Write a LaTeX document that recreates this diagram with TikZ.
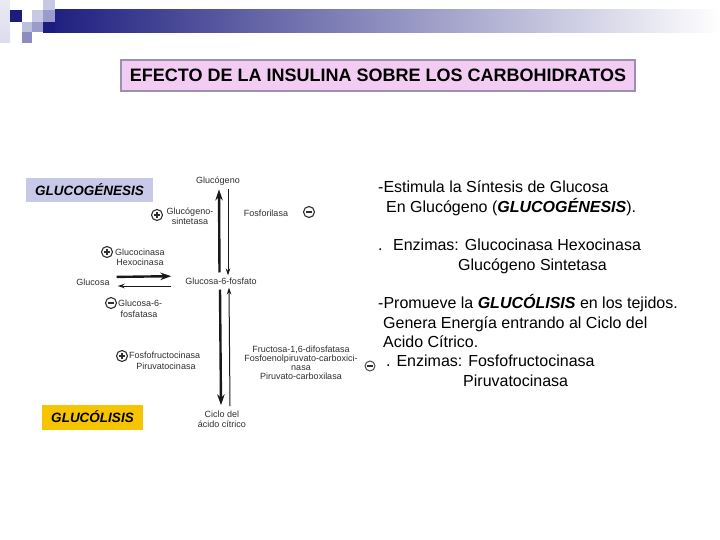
\documentclass[tikz,border=0pt]{standalone}
\usepackage{fontspec}
\setmainfont{Liberation Sans}
\usetikzlibrary{arrows.meta,calc}
\definecolor{navy}{HTML}{1C1C7E}
\definecolor{midbar}{HTML}{A4A4C0}
\definecolor{pale}{HTML}{DCDCEE}
\definecolor{sqA}{HTML}{C8C8E4}
\definecolor{sqB}{HTML}{9C9CCC}
\definecolor{sqC}{HTML}{BEBEDE}
\definecolor{sqD}{HTML}{8C8CC0}
\definecolor{titlefill}{HTML}{F2CCF2}
\definecolor{titledraw}{HTML}{9A90B0}
\definecolor{lav}{HTML}{C8C8E8}
\definecolor{gold}{HTML}{F6C400}
\definecolor{scan}{HTML}{2E2E2E}
\tikzset{
  diag/.style={font=\fontsize{9}{10.5}\selectfont, text=scan, inner sep=1pt, align=center},
  diagl/.style={diag, anchor=west},
  rtext/.style={font=\fontsize{16}{19}\selectfont, anchor=base west, inner sep=0pt, text=black},
  sign/.style={circle, draw=scan, line width=1.1pt, minimum size=11pt, inner sep=0pt},
  plussign/.style={sign, path picture={
      \draw[line width=1.4pt, scan] ([xshift=-3pt]path picture bounding box.center) -- ([xshift=3pt]path picture bounding box.center)
        ([yshift=-3pt]path picture bounding box.center) -- ([yshift=3pt]path picture bounding box.center);}},
  minussign/.style={sign, path picture={
      \draw[line width=1.4pt, scan] ([xshift=-3pt]path picture bounding box.center) -- ([xshift=3pt]path picture bounding box.center);}},
  thickarr/.style={draw=black!90, line width=2.4pt, -{Stealth[length=11pt,width=7.5pt]}},
  thinarr/.style={draw=black!90, line width=1pt, -{Stealth[length=7pt,width=4.5pt]}},
}
\begin{document}
\begin{tikzpicture}[x=1pt,y=-1pt]
\useasboundingbox (0,0) rectangle (720,540);
% header decoration
\shade[left color=navy, middle color=midbar, right color=white] (43,10) rectangle (720,33);
\shade[top color=pale!60, bottom color=pale] (0,0) rectangle (10,43);
\fill[navy] (10,10) rectangle (22,22);
\fill[sqA] (43,0) rectangle (55,10);
\fill[sqA] (32,10) rectangle (43,22);
\fill[sqB] (43,10) rectangle (55,22);
\fill[sqC] (22,22) rectangle (32,32);
\fill[sqB] (32,22) rectangle (43,32);
\fill[navy] (43,22) rectangle (55,33);
\fill[sqD] (22,32) rectangle (32,43);

% title
\node[fill=titlefill, draw=titledraw, line width=2pt, minimum width=514pt, minimum height=31pt, inner sep=0pt,
      font=\fontsize{18}{20}\selectfont\bfseries] (title) at (378,75.5) {EFECTO DE LA INSULINA SOBRE LOS CARBOHIDRATOS};

% side labels
\node[fill=lav, minimum width=127pt, minimum height=24pt, inner sep=0pt,
      font=\fontsize{13.5}{15}\selectfont\bfseries\itshape] (gen) at (89.5,190) {GLUCOGÉNESIS};
\node[fill=gold, minimum width=101pt, minimum height=25pt, inner sep=0pt,
      font=\fontsize{13.5}{15}\selectfont\bfseries\itshape] (lis) at (92.5,417) {GLUCÓLISIS};

% scanned diagram
\node[diag] (glucogeno) at (218,181) {Glucógeno};
\node[diag] (g6p) at (221,281) {Glucosa-6-fosfato};
\node[diag] (glucosa) at (93,282) {Glucosa};
\node[diag] (ciclo) at (222,419.5) {Ciclo del\\[-1pt]ácido cítrico};

\node[plussign] (p1) at (157,215) {};
\node[diag] (gsint) at (190,216) {Glucógeno-\\[-1pt]sintetasa};
\node[diag] (fosfor) at (266,213) {Fosforilasa};
\node[minussign] (m1) at (309,212) {};

\node[plussign] (p2) at (107,252) {};
\node[diagl] (gcin) at (114,252) {Glucocinasa};
\node[diag] (hexo) at (140,262.5) {Hexocinasa};

\node[minussign] (m2) at (111,303) {};
\node[diagl] (g6pasa) at (117,303) {Glucosa-6-};
\node[diag] (fosfatasa) at (139,314) {fosfatasa};

\node[plussign] (p3) at (122,356) {};
\node[diagl] (pfk) at (128,355) {Fosfofructocinasa};
\node[diag] (pk) at (166,366) {Piruvatocinasa};

\node[diag] (gneo) at (301,362.5) {Fructosa-1,6-difosfatasa\\[-1.5pt]Fosfoenolpiruvato-carboxici-\\[-1.5pt]nasa\\[-1.5pt]Piruvato-carboxilasa};

% connectors
\draw[thickarr] ([xshift=-1.5pt,yshift=4pt]g6p.north) -- ([xshift=1pt,yshift=-3pt]glucogeno.south);
\draw[thinarr] ([xshift=10pt,yshift=-3pt]glucogeno.south) -- ([xshift=7pt,yshift=1pt]g6p.north);
\draw[thickarr] ([xshift=-1pt,yshift=-4pt]g6p.south) -- ([xshift=-1pt,yshift=5pt]ciclo.north);
\draw[thinarr] ([xshift=8pt,yshift=4pt]ciclo.north) -- ([xshift=8pt,yshift=-2pt]g6p.south);
\draw[thickarr, shorten <=6pt, shorten >=13pt] ([yshift=5pt]glucosa.east) -- ([yshift=5pt]g6p.west);
\draw[thinarr, shorten <=13pt, shorten >=7pt] ([yshift=-5pt]g6p.west) -- ([yshift=-4pt]glucosa.east);

% right-hand text
\node[rtext] (t1) at (378,193) {-Estimula la Síntesis de Glucosa};
\node[rtext] (t2) at (386,212) {En Glucógeno (\textbf{\textit{GLUCOGÉNESIS}}).};
\node[rtext] (t3) at (378,250) {.\hspace{10.5pt}Enzimas: Glucocinasa Hexocinasa};
\node[rtext] (t4) at (458,270) {Glucógeno Sintetasa};
\node[rtext] (t5) at (378,308) {-Promueve la \textbf{\textit{GLUCÓLISIS}} en los tejidos.};
\node[rtext] (t6) at (383,328) {Genera Energía entrando al Ciclo del};
\node[rtext] (t7) at (383,347) {Acido Cítrico.};
\node[rtext] (t8) at (386,366) {. Enzimas: Fosfofructocinasa};
\node[rtext] (t9) at (463,386) {Piruvatocinasa};
\node[minussign, minimum size=10pt, line width=1pt, draw=black!70] (m3) at (370,366) {};
\end{tikzpicture}
\end{document}
